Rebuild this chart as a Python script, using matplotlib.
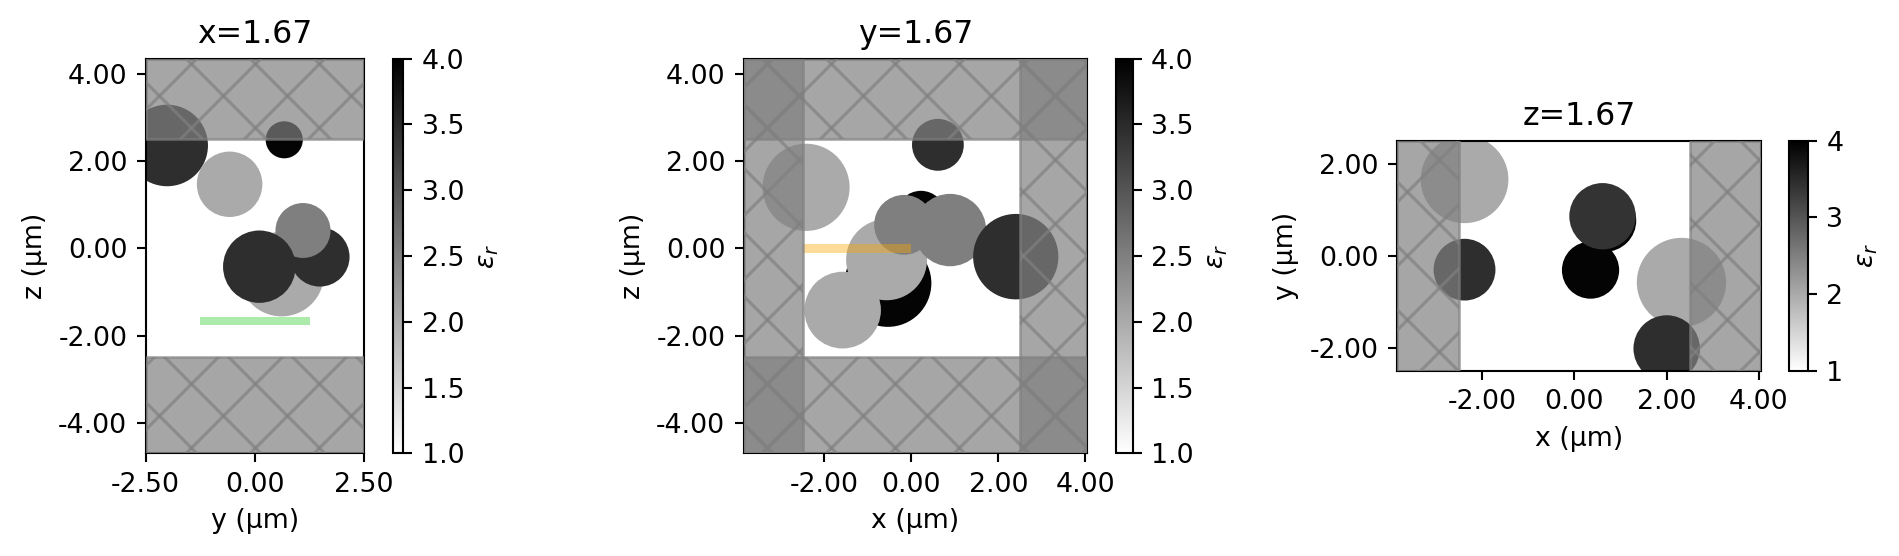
import numpy as np
import matplotlib
matplotlib.use("Agg")
import matplotlib.pyplot as plt
from matplotlib.patches import Circle, Rectangle
from matplotlib.collections import LineCollection
from matplotlib.cm import ScalarMappable
from matplotlib.colors import Normalize
from matplotlib.ticker import FormatStrFormatter
from matplotlib.transforms import Affine2D

W, H, DPI = 1899, 556, 189
plt.rcParams["axes.unicode_minus"] = False
plt.rcParams["font.size"] = 10.2

# x = 1.67 slice (y, z, radius, permittivity), in draw order
a1_h = [-2.01, -0.58, 0.67, 0.61, 1.485, 1.10, 0.10]
a1_v = [2.36, 1.47, 2.49, -0.59, -0.196, 0.41, -0.42]
a1_r = [0.935, 0.75, 0.425, 0.97, 0.68, 0.63, 0.83]
a1_e = [3.46, 2.0, 3.95, 2.0, 3.46, 2.5, 3.46]

# y = 1.67 slice (x, z, radius, permittivity)
a2_h = [0.61, -2.42, 0.22, -0.54, -0.57, -1.58, -0.17, 0.89, 2.40]
a2_v = [2.375, 1.40, 0.75, -0.80, -0.26, -1.416, 0.54, 0.42, -0.19]
a2_r = [0.595, 1.0, 0.57, 1.0, 0.93, 0.88, 0.686, 0.83, 0.98]
a2_e = [3.46, 2.0, 3.95, 3.95, 2.0, 2.0, 2.5, 2.5, 3.46]

# z = 1.67 slice (x, y, radius, permittivity)
a3_h = [-2.38, -2.38, 0.35, 0.66, 0.61, 2.32, 2.0]
a3_v = [1.66, -0.30, -0.31, 0.767, 0.86, -0.576, -2.01]
a3_r = [0.95, 0.67, 0.62, 0.68, 0.72, 0.967, 0.72]
a3_e = [2.0, 3.46, 3.95, 3.95, 3.40, 2.0, 3.46]

titles = ["x=1.67", "y=1.67", "z=1.67"]
xlabels = ["y (µm)", "x (µm)", "x (µm)"]
ylabels = ["z (µm)", "z (µm)", "y (µm)"]
xticks = [[-2.5, 0, 2.5], [-2, 0, 2, 4], [-2, 0, 2, 4]]
yticks = [[-4, -2, 0, 2, 4], [-4, -2, 0, 2, 4], [-2, 0, 2]]
cticks = [[1, 1.5, 2, 2.5, 3, 3.5, 4], [1, 1.5, 2, 2.5, 3, 3.5, 4], [1, 2, 3, 4]]
cfmt = ["%.1f", "%.1f", "%.0f"]
xlims = [(-2.5, 2.5), (-3.855, 4.045), (-3.85, 4.05)]
ylims = [(-4.70, 4.35), (-4.70, 4.35), (-2.5, 2.5)]

# PML extents per panel: (left, right, bottom, top) of the regions
pml_panels = [
    [(-2.5, 2.5, 2.5, 4.35), (-2.5, 2.5, -4.70, -2.5)],
    [(-3.855, -2.5, -4.70, 4.35), (2.5, 4.045, -4.70, 4.35),
     (-3.855, 4.045, 2.5, 4.35), (-3.855, 4.045, -4.70, -2.5)],
    [(-3.85, -2.5, -2.5, 2.5), (2.5, 4.05, -2.5, 2.5)],
]

# monitor / source strips: (left, right, centre, colour)
strips = [(-1.25, 1.25, -1.66, "limegreen"), (-2.5, 0.0, 0.0, "orange"), None]

# pixel boxes (left, right, top, bottom)
ax_px = [(145.7, 364.2, 58.7, 453.3), (743.7, 1087.3, 58.7, 453.3), (1396.7, 1761.3, 140.7, 371.0)]
cb_px = [(392.7, 403.2), (1116.0, 1132.7), (1789.3, 1808.0)]

cmap = "gist_yarg"
norm = Normalize(1, 4)
sm = ScalarMappable(norm=norm, cmap=cmap)

fig = plt.figure(figsize=(W / DPI, H / DPI), dpi=DPI)


def box(l, r, t, b):
    return [l / W, 1 - b / H, (r - l) / W, (b - t) / H]


# Hatch lattice in figure pixels measured from the top left
pix = Affine2D().scale(1, -1).translate(0, H)
HATCH = 64.0
HATCH_0 = 63.5


def add_pml(ax, rect):
    l, r, b, t = rect
    ax.add_patch(Rectangle((l, b), r - l, t - b, facecolor="gray", edgecolor="gray",
                           alpha=0.7, lw=1.0, zorder=100, clip_on=True))
    clip = Rectangle((l, b), r - l, t - b, transform=ax.transData, facecolor="none")
    segs = []
    for k in range(-20, 60):
        c = HATCH_0 + k * HATCH
        segs.append([(c - 1000, -1000), (c + 1000, 1000)])
        segs.append([(c + 1000, -1000), (c - 1000, 1000)])
    lc = LineCollection(segs, colors="gray", linewidths=1.2, alpha=0.7,
                        transform=pix, zorder=101)
    ax.add_collection(lc, autolim=False)
    lc.set_clip_path(clip)


circle_sets = [(a1_h, a1_v, a1_r, a1_e), (a2_h, a2_v, a2_r, a2_e), (a3_h, a3_v, a3_r, a3_e)]

for i in range(3):
    ax = fig.add_axes(box(*ax_px[i]))
    for h, v, r, e in zip(*circle_sets[i]):
        ax.add_patch(Circle((h, v), r, facecolor=sm.to_rgba(e), edgecolor="none", zorder=2))
    if strips[i] is not None:
        l, r, c, col = strips[i]
        ax.add_patch(Rectangle((l, c - 0.095), r - l, 0.19, facecolor=col, edgecolor="none",
                               alpha=0.4, zorder=50))
    for rect in pml_panels[i]:
        add_pml(ax, rect)
    ax.set_xlim(*xlims[i])
    ax.set_ylim(*ylims[i])
    ax.set_xticks(xticks[i])
    ax.set_yticks(yticks[i])
    ax.xaxis.set_major_formatter(FormatStrFormatter("%.2f"))
    ax.yaxis.set_major_formatter(FormatStrFormatter("%.2f"))
    ax.set_xlabel(xlabels[i])
    ax.set_ylabel(ylabels[i])
    ax.set_title(titles[i], fontsize=12)

    l, r = cb_px[i]
    t, b = ax_px[i][2], ax_px[i][3]
    cax = fig.add_axes(box(l, r, t, b))
    cb = fig.colorbar(sm, cax=cax, ticks=cticks[i], format=FormatStrFormatter(cfmt[i]))
    cb.set_label(r"$\varepsilon_r$")

fig.savefig("out.png", dpi=DPI)
